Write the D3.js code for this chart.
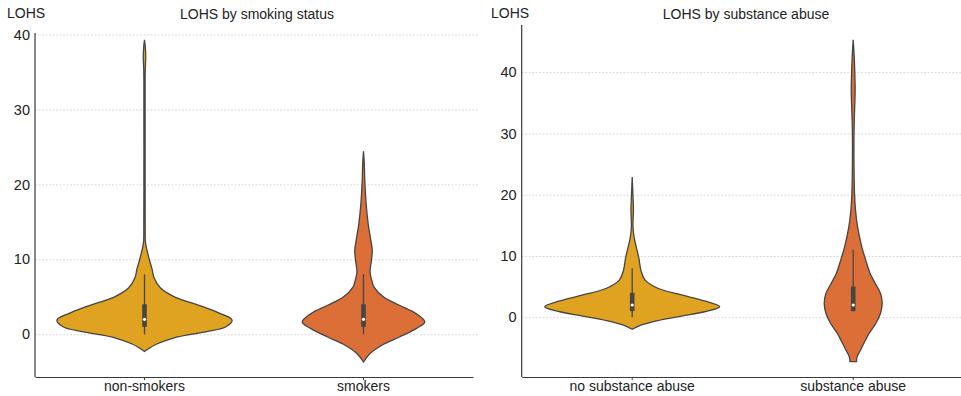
<!DOCTYPE html>
<html>
<head>
<meta charset="utf-8">
<script src="https://cdn.jsdelivr.net/npm/d3@7"></script>
<style>
  body { margin: 0; background: #fff; }
  figure { margin: 0; }
  text { font-family: "Liberation Sans", Arial, Helvetica, sans-serif; fill: #222; }
</style>
</head>
<body>
<figure id="chart"></figure>
<script>
// categories
const smokingGroups = ["non-smokers", "smokers"];
const substanceGroups = ["no substance abuse", "substance abuse"];
const yTicks = [0, 10, 20, 30, 40];

// violin outlines: [LOHS, relative half-width]
const nonSmokersDensity = [[-2.3, 0], [-1.9, 0.05], [-1.3, 0.14], [-0.5, 0.33], [0.35, 0.71], [1.0, 0.93], [1.9, 1.0],
  [2.8, 0.86], [3.5, 0.71], [4.25, 0.52], [5.06, 0.33], [6.2, 0.18], [7.5, 0.11], [8.65, 0.087], [10.2, 0.05],
  [12.2, 0.012], [14, 0.008], [20, 0.007], [30, 0.007], [35, 0.008], [37, 0.014], [38.5, 0.008], [39.3, 0]];
const smokersDensity = [[-3.7, 0], [-2.57, 0.075], [-1.33, 0.23], [-0.36, 0.41], [0.76, 0.6], [1.64, 0.7], [2.76, 0.6],
  [3.87, 0.41], [4.97, 0.23], [6.3, 0.12], [6.76, 0.105], [8.3, 0.075], [9.8, 0.09], [11.2, 0.1], [12.8, 0.08],
  [14.5, 0.056], [17.4, 0.03], [20.5, 0.015], [23, 0.008], [24.4, 0]];
const noSubstanceDensity = [[-1.96, 0], [-1.26, 0.105], [-0.55, 0.29], [0.2, 0.56], [0.9, 0.82], [1.73, 0.99], [2.66, 0.82],
  [3.64, 0.56], [4.73, 0.29], [6.1, 0.144], [7.7, 0.098], [9.6, 0.076], [11.3, 0.049], [12.9, 0.023], [14.8, 0.009],
  [17.5, 0.014], [20, 0.008], [22.9, 0]];
const substanceDensity = [[-7.25, 0.037], [-6.43, 0.045], [-5.34, 0.083], [-4.24, 0.121], [-2.6, 0.181], [-0.98, 0.257],
  [0.65, 0.309], [2.29, 0.328], [3.9, 0.309], [5.5, 0.25], [7.2, 0.19], [9.4, 0.14], [11.5, 0.097], [14.8, 0.049],
  [17.5, 0.026], [20.2, 0.015], [25, 0.009], [30, 0.009], [33, 0.014], [37, 0.022], [40, 0.018], [43, 0.01], [45.3, 0]];

// inner boxes: [whisker low, q1, median, q3, whisker high]
const smokingBoxes = [[0, 1, 2, 4, 8], [0, 1, 2, 4, 8]];
const substanceBoxes = [[0, 1, 2, 4, 8], [1, 1, 2, 5, 11]];

const colors = ["#dfa221", "#dc6f38"];

let dimensions = { width: 961, height: 396 };

const panels = [
  { title: "LOHS by smoking status", groups: smokingGroups, densities: [nonSmokersDensity, smokersDensity],
    boxes: smokingBoxes, left: 35, right: 473, gridRight: 478, top: 33, bottom: 377, yDomain: [-5.7, 40.2],
    labelX: 7, titleX: 257 },
  { title: "LOHS by substance abuse", groups: substanceGroups, densities: [noSubstanceDensity, substanceDensity],
    boxes: substanceBoxes, left: 521.7, right: 963.7, gridRight: 961, top: 25, bottom: 377, yDomain: [-9.75, 47.7],
    labelX: 491, titleX: 746 }
];

var svg = d3.select("figure#chart")
  .append("svg")
  .attr("width", dimensions.width)
  .attr("height", dimensions.height)
  .attr("viewBox", `0 0 ${dimensions.width} ${dimensions.height}`);

panels.forEach(p => {
  var g = svg.append("g");

  var xScale = d3.scaleBand()
    .domain(p.groups)
    .range([p.left, p.right]);

  var yScale = d3.scaleLinear()
    .domain(p.yDomain)
    .range([p.bottom, p.top]);

  // half-width of a violin: 0.4 of the category step at full density
  var wScale = d3.scaleLinear()
    .domain([0, 1])
    .range([0, xScale.step() * 0.4]);

  // gridlines + y labels
  var yAxis = g.append("g")
    .attr("transform", `translate(${p.left},0)`)
    .call(d3.axisLeft(yScale).tickValues(yTicks).tickSize(-(p.gridRight - p.left)).tickPadding(5));
  yAxis.select(".domain").remove();
  yAxis.selectAll(".tick line")
    .attr("stroke", "#cfcfcf")
    .attr("stroke-width", 0.8)
    .attr("stroke-dasharray", "2,1.5");
  yAxis.selectAll("text")
    .attr("font-size", 14.5)
    .attr("fill", "#222");

  // violins
  p.groups.forEach((grp, i) => {
    var cx = xScale(grp) + xScale.bandwidth() / 2;
    var area = d3.area()
      .y(d => yScale(d[0]))
      .x0(d => cx - wScale(d[1]))
      .x1(d => cx + wScale(d[1]))
      .curve(d3.curveCatmullRom.alpha(0.5));

    g.append("path")
      .datum(p.densities[i])
      .attr("d", area)
      .attr("fill", colors[i])
      .attr("stroke", "#454545")
      .attr("stroke-width", 1.3);

    var b = p.boxes[i];
    g.append("line")
      .attr("x1", cx).attr("x2", cx)
      .attr("y1", yScale(b[0])).attr("y2", yScale(b[4]))
      .attr("stroke", "#454545")
      .attr("stroke-width", 1.3);
    g.append("rect")
      .attr("x", cx - 2.3)
      .attr("width", 4.6)
      .attr("y", yScale(b[3]))
      .attr("height", yScale(b[1]) - yScale(b[3]))
      .attr("fill", "#454545");
    g.append("circle")
      .attr("cx", cx)
      .attr("cy", yScale(b[2]))
      .attr("r", 1.6)
      .attr("fill", "#fff");
  });

  // spines
  g.append("line")
    .attr("x1", p.left).attr("x2", p.left)
    .attr("y1", p.top).attr("y2", p.bottom)
    .attr("stroke", "#3a3a3a")
    .attr("stroke-width", 1.2);

  var xAxis = g.append("g")
    .attr("transform", `translate(0,${p.bottom})`)
    .call(d3.axisBottom(xScale).tickSize(3).tickSizeOuter(0).tickPadding(1));
  xAxis.select(".domain")
    .attr("stroke", "#3a3a3a")
    .attr("stroke-width", 1.2);
  xAxis.selectAll(".tick line").attr("stroke", "#3a3a3a");
  xAxis.selectAll("text")
    .attr("font-size", 14)
    .attr("fill", "#222");

  // titles
  g.append("text")
    .attr("x", p.labelX)
    .attr("y", 18)
    .attr("font-size", 14)
    .text("LOHS");
  g.append("text")
    .attr("x", p.titleX)
    .attr("y", 19)
    .attr("text-anchor", "middle")
    .attr("font-size", 14)
    .text(p.title);
});
</script>
</body>
</html>
